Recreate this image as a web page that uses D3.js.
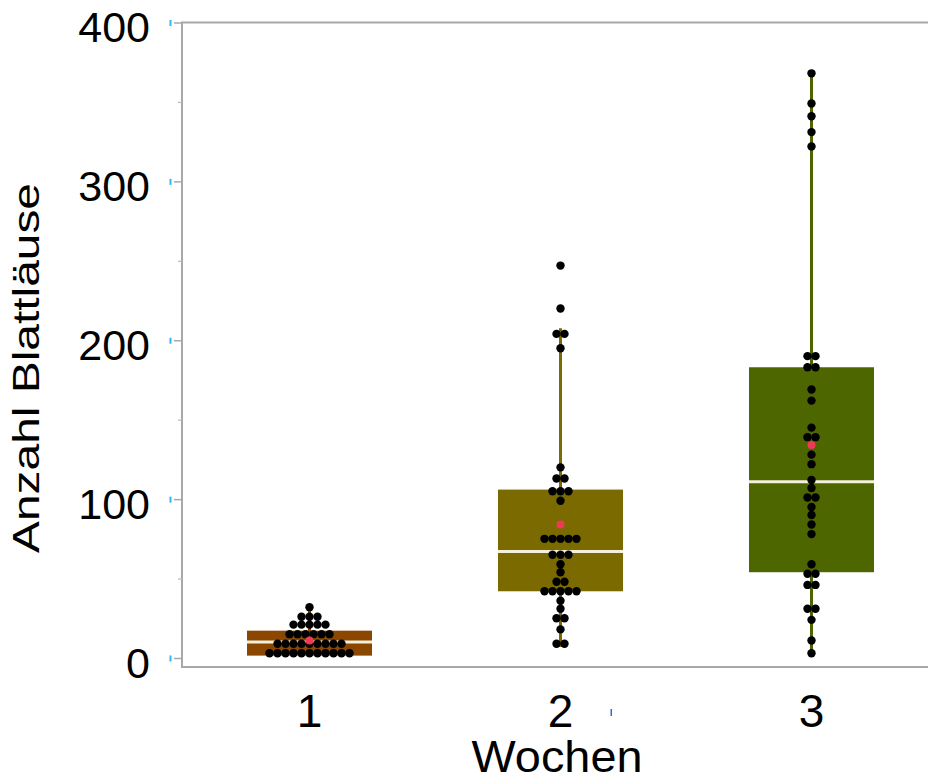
<!DOCTYPE html>
<html><head><meta charset="utf-8">
<script src="https://cdn.jsdelivr.net/npm/d3@7"></script>
<style>body{margin:0;background:#fff}svg{display:block}text{font-family:"Liberation Sans",Arial,sans-serif}</style>
</head><body><svg id="c" width="928" height="781"></svg>
<script>
// ---- data ----
const weeks = ["1", "2", "3"];
const week1 = [3,3,3,3,3,3,3,3,3,3,3, 9,9,9,9,9,9,9,9,9, 15,15,15,15,15,15, 21,21,21,21,21, 26,26,26, 32];
const week2 = [247,220,204,204,195,120,113,113,105,105,105,99,75,75,75,75,75,65,65,65,59,54,48,48,42,42,42,42,42,36,31,25,25,18,9,9];
const week3 = [368,349,341,331,322,190,190,183,183,169,162,145,139,139,128,122,112,107,101,101,95,90,84,78,59,53,53,46,46,31,31,24,11,3];
const q1 = [1.5, 42, 54];
const median = [10, 67, 111];
const q3 = [17.2, 106, 183];
const whiskLow = [3, 7, 3];
const whiskHigh = [32, 207.5, 368];
const means = [11, 84, 134];
const boxColors = ["#8b4600", "#7a6a00", "#4e6600"];
const yMajor = [0, 100, 200, 300, 400];
const yMinor = [50, 150, 250, 350];

const svg = d3.select("#c");
svg.append("rect").attr("width", 928).attr("height", 781).attr("fill", "#fff");

const y = d3.scaleLinear().domain([0, 400]).range([658, 22.5]);
const x = d3.scaleBand().domain(weeks).range([184, 937]);
const frameLeft = 182, frameBottom = 667, frameTop = y(400);

// frame
svg.append("path")
  .attr("d", `M940,${frameTop}H${frameLeft}V${frameBottom}H940`)
  .attr("fill", "none").attr("stroke", "#a8a8a8").attr("stroke-width", 2);

// y axis major
const yAx = svg.append("g").attr("transform", `translate(${frameLeft},0)`)
  .call(d3.axisLeft(y).tickValues(yMajor).tickSize(8).tickPadding(24));
yAx.select(".domain").remove();
yAx.selectAll("line").attr("stroke", "#a8a8a8").attr("stroke-width", 1.5);
yAx.selectAll("text").attr("font-size", 43).attr("fill", "#000").attr("dy", "0.45em")
  .style("font-family", '"Liberation Sans",Arial,sans-serif');
// cyan marks
yAx.selectAll(".tick").append("rect").attr("x", -12.5).attr("y", -3).attr("width", 2).attr("height", 6).attr("fill", "#35b8f0");

// y axis minor
const yMin = svg.append("g").attr("transform", `translate(${frameLeft},0)`)
  .call(d3.axisLeft(y).tickValues(yMinor).tickSize(4).tickFormat(""));
yMin.select(".domain").remove();
yMin.selectAll("line").attr("stroke", "#b8b8b8").attr("stroke-width", 1.2);

// x axis
const xAx = svg.append("g").attr("transform", `translate(0,${frameBottom})`)
  .call(d3.axisBottom(x).tickSize(0).tickPadding(27));
xAx.select(".domain").remove();
xAx.selectAll("text").attr("font-size", 46).attr("fill", "#000")
  .style("font-family", '"Liberation Sans",Arial,sans-serif');

svg.append("rect").attr("x", 610.5).attr("y", 709).attr("width", 1.5).attr("height", 7).attr("fill", "#3366ee");

// titles
svg.append("text").attr("x", 557).attr("y", 772).attr("text-anchor", "middle")
  .attr("font-size", 44).attr("fill", "#000")
  .attr("textLength", 171).attr("lengthAdjust", "spacingAndGlyphs").text("Wochen");
svg.append("text").attr("transform", "translate(39,368) rotate(-90)").attr("text-anchor", "middle")
  .attr("font-size", 37).attr("fill", "#000")
  .attr("textLength", 370).attr("lengthAdjust", "spacingAndGlyphs").text("Anzahl Blattläuse");

// boxes
const boxW = 125;
const groups = [week1, week2, week3];
weeks.forEach((w, i) => {
  const cx = x(w) + x.bandwidth() / 2;
  const col = boxColors[i];
  const g = svg.append("g");
  g.append("line").attr("x1", cx).attr("x2", cx).attr("y1", y(whiskLow[i])).attr("y2", y(whiskHigh[i]))
    .attr("stroke", col).attr("stroke-width", 3);
  g.append("rect").attr("x", cx - boxW / 2).attr("width", boxW)
    .attr("y", y(q3[i])).attr("height", y(q1[i]) - y(q3[i])).attr("fill", col);
  g.append("line").attr("x1", cx - boxW / 2).attr("x2", cx + boxW / 2)
    .attr("y1", y(median[i])).attr("y2", y(median[i]))
    .attr("stroke", "#f4f0dc").attr("stroke-width", 3);

  // dots: equal values side by side
  const counts = d3.rollup(groups[i], v => v.length, d => d);
  const seen = new Map();
  const pts = groups[i].map(v => {
    const k = seen.get(v) || 0; seen.set(v, k + 1);
    const n = counts.get(v);
    return { v, dx: (k - (n - 1) / 2) * 8 };
  });
  g.selectAll("circle.pt").data(pts).join("circle").attr("class", "pt")
    .attr("cx", d => cx + d.dx).attr("cy", d => y(d.v)).attr("r", 4.2).attr("fill", "#000");
  g.append("circle").attr("cx", cx).attr("cy", y(means[i])).attr("r", 4).attr("fill", "#ee3a55");
});
</script></body></html>
